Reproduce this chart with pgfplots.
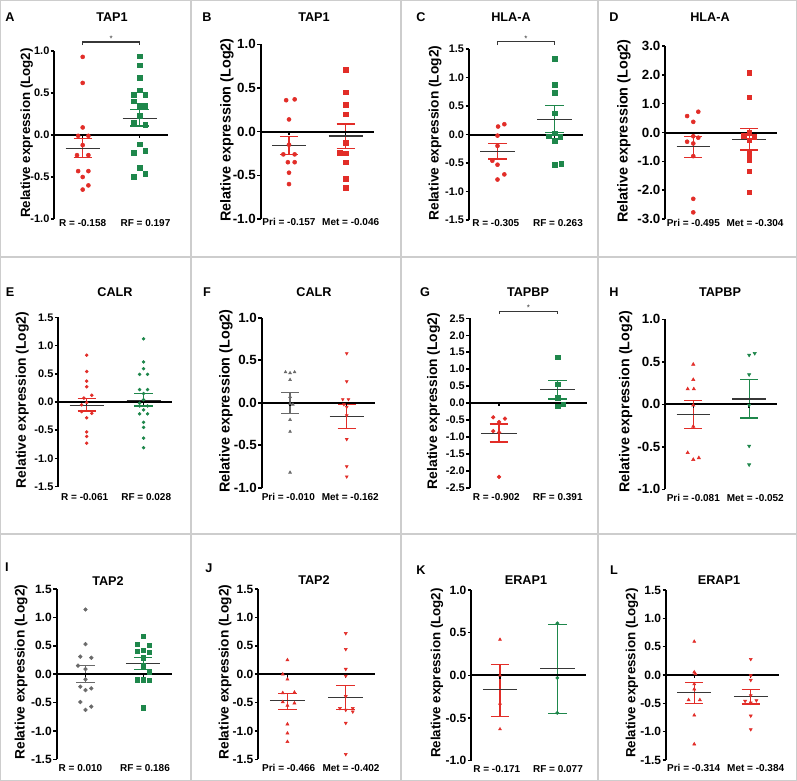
\documentclass[border=0pt]{standalone}
\usepackage{fontspec}
\setmainfont{Liberation Sans}
\usepackage{pgfplots}
\pgfplotsset{compat=1.18}
\definecolor{pred}{RGB}{226,45,40}
\definecolor{pgreen}{RGB}{30,135,75}
\definecolor{pgrey}{RGB}{105,105,105}
\definecolor{mgrey}{RGB}{55,55,55}
\definecolor{frame}{RGB}{205,205,205}
\newcommand\ttl{\bfseries\fontsize{9.5}{11}\selectfont}
\newcommand\grp{\bfseries\fontsize{7.5}{9}\selectfont}
\newcommand\lab[1]{\bfseries\fontsize{#1}{12}\selectfont}
\pgfplotsset{
  panel/.style={scale only axis, clip=false, xmin=0.5, xmax=2.5,
    axis x line=none, axis y line=left,
    axis line style={-, line width=1.5pt, black},
    ytick style={line width=1.2pt, black},
    tick align=outside, major tick length=2.5pt,
    yticklabel style={font=\bfseries\fontsize{#1}{#1}\selectfont, inner sep=1pt},
    anchor=south west},
  dot/.style={only marks, mark=*, mark size=#1},
  sq/.style={only marks, mark=square*, mark size=#1},
  triU/.style={only marks, mark=triangle*, mark size=#1},
  triD/.style={only marks, mark=triangle*, mark size=#1, mark options={rotate=180}},
}
\newcommand\semA[3]{%
  \addplot[#3, line width=0.9pt] coordinates {(0.84,#1) (1.16,#1)};
  \addplot[#3, line width=0.9pt] coordinates {(1,#1) (1,#2)};
  \addplot[#3, line width=0.9pt] coordinates {(0.84,#2) (1.16,#2)};}
\newcommand\semB[3]{%
  \addplot[#3, line width=0.9pt] coordinates {(1.84,#1) (2.16,#1)};
  \addplot[#3, line width=0.9pt] coordinates {(2,#1) (2,#2)};
  \addplot[#3, line width=0.9pt] coordinates {(1.84,#2) (2.16,#2)};}
\newcommand\means[2]{%
  \addplot[mgrey, line width=0.9pt] coordinates {(0.7,#1) (1.3,#1)};
  \addplot[mgrey, line width=0.9pt] coordinates {(1.7,#2) (2.3,#2)};}
\newcommand\zeroline{%
  \addplot[black, line width=1.5pt] coordinates {(0.5,0) (2.5,0)};
  \draw[line width=1pt] (axis cs:1,0) -- ++(0pt,-2.5pt);
  \draw[line width=1pt] (axis cs:2,0) -- ++(0pt,-2.5pt);}
\newcommand\bracket[2]{%
  \draw[mgrey, line width=0.8pt] (axis cs:1,#2) -- (axis cs:1,#1) -- (axis cs:2,#1) -- (axis cs:2,#2);
  \node[mgrey, font=\fontsize{6}{6}\selectfont, yshift=2.5pt] at (axis cs:1.5,#1) {*};}
\begin{document}
\begin{tikzpicture}
\useasboundingbox (0,0) rectangle (597.75pt,-585.75pt);
\fill[white] (0,0) rectangle (597.75pt,-585.75pt);

% ---------------- A
\begin{axis}[panel=8.2, at={(40.7pt,-164.25pt)}, width=85.3pt, height=126pt,
  ymin=-1, ymax=1, ytick={-1,-0.5,0,0.5,1}, yticklabels={-1.0,-0.5,0.0,0.5,1.0}]
\addplot[dot=1.5pt, pred] coordinates {(1,0.93)(1,0.62)(1,0.09)(0.92,-0.01)(1.1,-0.01)(1,-0.12)(0.9,-0.24)(1.1,-0.24)(0.92,-0.43)(1.1,-0.43)(1,-0.50)(1.1,-0.60)(1,-0.65)};
\addplot[sq=1.7pt, pgreen] coordinates {(2,0.94)(2,0.83)(2,0.68)(2,0.53)(1.9,0.48)(2.1,0.48)(1.9,0.40)(2,0.35)(2.1,0.35)(2,0.23)(1.9,0.15)(2.1,0.12)(2,-0.11)(2.1,-0.19)(1.9,-0.21)(2,-0.39)(2.1,-0.46)(1.9,-0.50)};
\semA{-0.04}{-0.27}{pred}
\semB{0.30}{0.107}{pgreen}
\means{-0.158}{0.197}
\zeroline
\bracket{1.107}{1.07}
\end{axis}

% ---------------- B
\begin{axis}[panel=10, at={(195.5pt,-164.25pt)}, width=85pt, height=131pt,
  ymin=-1, ymax=1, ytick={-1,-0.5,0,0.5,1}, yticklabels={-1.0,-0.5,0.0,0.5,1.0}]
\addplot[dot=1.5pt, pred] coordinates {(0.95,0.36)(1.1,0.37)(1,0.14)(1,-0.15)(0.9,-0.26)(1.1,-0.26)(0.98,-0.35)(1.1,-0.35)(1,-0.47)(1,-0.60)};
\addplot[sq=1.7pt, pred] coordinates {(2,0.71)(2,0.45)(2,0.31)(2,0.20)(2,-0.13)(1.9,-0.24)(2,-0.25)(2,-0.35)(2,-0.54)(2,-0.64)};
\semA{-0.055}{-0.26}{pred}
\semB{0.088}{-0.19}{pred}
\means{-0.157}{-0.05}
\zeroline
\end{axis}

% ---------------- C
\begin{axis}[panel=8.2, at={(351.75pt,-165pt)}, width=85.5pt, height=128.25pt,
  ymin=-1.5, ymax=1.5, ytick={-1.5,-1,-0.5,0,0.5,1,1.5}, yticklabels={-1.5,-1.0,-0.5,0.0,0.5,1.0,1.5}]
\addplot[dot=1.5pt, pred] coordinates {(1.12,0.18)(1.01,0.14)(1,-0.02)(1,-0.20)(0.91,-0.46)(1,-0.53)(1.12,-0.70)(1,-0.79)};
\addplot[sq=1.7pt, pgreen] coordinates {(2,1.33)(2,0.87)(2,0.73)(2,0.37)(2,0.02)(1.9,-0.03)(2.1,-0.04)(2,-0.11)(2.12,-0.51)(2,-0.53)};
\semA{-0.16}{-0.43}{pred}
\semB{0.51}{0.03}{pgreen}
\means{-0.305}{0.263}
\zeroline
\bracket{1.63}{1.57}
\end{axis}

% ---------------- D
\begin{axis}[panel=10, at={(499pt,-164.25pt)}, width=83.8pt, height=129.75pt,
  ymin=-3, ymax=3, ytick={-3,-2,-1,0,1,2,3}, yticklabels={-3.0,-2.0,-1.0,0.0,1.0,2.0,3.0}]
\addplot[dot=1.5pt, pred] coordinates {(1.09,0.72)(0.89,0.57)(1,0.37)(1,-0.13)(1.09,-0.18)(0.89,-0.32)(1,-0.38)(1,-0.82)(1,-2.30)(1,-2.77)};
\addplot[sq=1.7pt, pred] coordinates {(2,2.07)(2,1.22)(1.9,-0.12)(2.09,-0.15)(2,0.0)(2,-0.27)(2,-0.73)(2,-0.94)(2,-1.35)(2,-2.07)};
\semA{-0.15}{-0.88}{pred}
\semB{0.127}{-0.61}{pred}
\means{-0.495}{-0.24}
\zeroline
\end{axis}

% ---------------- E
\begin{axis}[panel=8.2, at={(43.7pt,-365pt)}, width=85.3pt, height=127pt,
  ymin=-1.5, ymax=1.5, ytick={-1.5,-1,-0.5,0,0.5,1,1.5}, yticklabels={-1.5,-1.0,-0.5,0.0,0.5,1.0,1.5}]
\addplot[dot=1.1pt, pred] coordinates {(1,0.83)(1,0.54)(1,0.37)(1,0.27)(1.09,0.12)(0.95,0.07)(1,-0.01)(0.91,-0.05)(0.91,-0.17)(1.09,-0.20)(1,-0.28)(1,-0.53)(1,-0.61)(1,-0.73)};
\addplot[dot=1.1pt, pgreen] coordinates {(2,1.12)(2,0.71)(2,0.59)(1.93,0.49)(2.07,0.49)(1.93,0.22)(2.07,0.22)(2,0.15)(2,0.04)(1.93,-0.02)(1.93,-0.07)(2.07,-0.07)(2,-0.14)(1.93,-0.21)(2.07,-0.21)(2,-0.36)(2,-0.45)(2,-0.64)(2,-0.81)};
\semA{0.06}{-0.16}{pred}
\semB{0.15}{-0.07}{pgreen}
\means{-0.061}{0.028}
\zeroline
\end{axis}

% ---------------- F
\begin{axis}[panel=10, at={(196.3pt,-365.8pt)}, width=85pt, height=127.5pt,
  ymin=-1, ymax=1, ytick={-1,-0.5,0,0.5,1}, yticklabels={-1.0,-0.5,0.0,0.5,1.0}]
\addplot[triU=1.2pt, pgrey] coordinates {(0.92,0.36)(1,0.35)(1.08,0.36)(1,0.27)(1,0.07)(1,-0.01)(1.05,-0.02)(1,-0.20)(1,-0.34)(1,-0.82)};
\addplot[triD=1.2pt, pred] coordinates {(2,0.58)(2,0.25)(1.93,0.04)(2.03,0.04)(1.95,-0.02)(2,-0.05)(2,-0.15)(2,-0.43)(2,-0.75)(2,-0.87)};
\semA{0.12}{-0.13}{pgrey}
\semB{-0.015}{-0.30}{pred}
\means{-0.010}{-0.162}
\zeroline
\end{axis}

% ---------------- G
\begin{axis}[panel=8.2, at={(352.3pt,-365.8pt)}, width=88pt, height=127pt,
  ymin=-2.5, ymax=2.5, ytick={-2.5,-2,-1.5,-1,-0.5,0,0.5,1,1.5,2,2.5}, yticklabels={-2.5,-2.0,-1.5,-1.0,-0.5,0.0,0.5,1.0,1.5,2.0,2.5}]
\addplot[dot=1.4pt, pred] coordinates {(0.9,-0.42)(1.1,-0.46)(1,-0.56)(0.9,-0.83)(1,-0.87)(1,-2.18)};
\addplot[sq=1.6pt, pgreen] coordinates {(2,1.35)(2,0.56)(2,0.16)(2.1,-0.03)(2,-0.10)};
\semA{-0.62}{-1.15}{pred}
\semB{0.66}{0.12}{pgreen}
\means{-0.902}{0.391}
\zeroline
\bracket{2.715}{2.63}
\end{axis}

% ---------------- H
\begin{axis}[panel=10, at={(499pt,-367pt)}, width=83.8pt, height=127.5pt,
  ymin=-1, ymax=1, ytick={-1,-0.5,0,0.5,1}, yticklabels={-1.0,-0.5,0.0,0.5,1.0}]
\addplot[triU=1.4pt, pred] coordinates {(1,0.47)(1,0.29)(0.9,0.18)(1.01,0.18)(1,-0.01)(1,-0.26)(0.9,-0.57)(1,-0.65)(1.1,-0.63)};
\addplot[triD=1.4pt, pgreen] coordinates {(2,0.58)(2.1,0.60)(2,0.35)(2,-0.01)(2,-0.49)(2,-0.71)};
\semA{0.043}{-0.28}{pred}
\semB{0.29}{-0.16}{pgreen}
\means{-0.118}{0.063}
\zeroline
\end{axis}

% ---------------- I
\begin{axis}[panel=9, at={(42.5pt,-569.5pt)}, width=86.5pt, height=127.7pt,
  ymin=-1.5, ymax=1.5, ytick={-1.5,-1,-0.5,0,0.5,1,1.5}, yticklabels={-1.5,-1.0,-0.5,0.0,0.5,1.0,1.5}]
\addplot[dot=1.4pt, pgrey] coordinates {(1,1.14)(1,0.53)(0.91,0.31)(1.1,0.29)(0.87,0.15)(1,0.09)(1,-0.09)(0.91,-0.22)(1.1,-0.25)(1,-0.28)(0.91,-0.49)(1.1,-0.57)(1,-0.63)};
\addplot[sq=1.6pt, pgreen] coordinates {(2,0.67)(1.9,0.53)(2.1,0.51)(2,0.42)(1.9,0.40)(2.1,0.39)(2,0.29)(2,0.15)(2.1,0.04)(1.9,-0.10)(2,-0.10)(2.1,-0.11)(2,-0.59)};
\semA{0.15}{-0.15}{pgrey}
\semB{0.29}{0.08}{pgreen}
\means{0.010}{0.186}
\zeroline
\end{axis}

% ---------------- J
\begin{axis}[panel=9, at={(193.7pt,-569.5pt)}, width=87.5pt, height=127.7pt,
  ymin=-1.5, ymax=1.5, ytick={-1.5,-1,-0.5,0,0.5,1,1.5}, yticklabels={-1.5,-1.0,-0.5,0.0,0.5,1.0,1.5}]
\addplot[triU=1.3pt, pred] coordinates {(1,0.25)(0.92,0.0)(1,-0.09)(1.12,-0.32)(0.92,-0.33)(0.92,-0.49)(1.12,-0.51)(1,-0.55)(1,-0.88)(1,-1.04)(1,-1.19)};
\addplot[triD=1.3pt, pred] coordinates {(2,0.72)(2,0.44)(2,0.09)(2,-0.03)(2,-0.39)(1.9,-0.60)(2,-0.63)(2.12,-0.66)(2.12,-0.60)(2,-0.86)(2,-1.41)};
\semA{-0.335}{-0.62}{pred}
\semB{-0.20}{-0.62}{pred}
\means{-0.47}{-0.405}
\zeroline
\end{axis}

% ---------------- K
\begin{axis}[panel=9, at={(353.5pt,-570.5pt)}, width=86pt, height=128pt,
  ymin=-1, ymax=1, ytick={-1,-0.5,0,0.5,1}, yticklabels={-1.0,-0.5,0.0,0.5,1.0}]
\addplot[triU=1.2pt, pred] coordinates {(1,0.42)(1,0.0)(1,-0.33)(1,-0.63)};
\addplot[dot=1.2pt, pgreen] coordinates {(2,0.61)(2,-0.03)(2,-0.44)};
\semA{0.13}{-0.48}{pred}
\semB{0.60}{-0.45}{pgreen}
\means{-0.168}{0.078}
\zeroline
\end{axis}

% ---------------- L
\begin{axis}[panel=9, at={(499.5pt,-570pt)}, width=84.75pt, height=127.5pt,
  ymin=-1.5, ymax=1.5, ytick={-1.5,-1,-0.5,0,0.5,1,1.5}, yticklabels={-1.5,-1.0,-0.5,0.0,0.5,1.0,1.5}]
\addplot[triU=1.3pt, pred] coordinates {(1,0.59)(1,0.05)(1.02,0.02)(1,-0.16)(1,-0.25)(0.9,-0.44)(1.1,-0.44)(1,-0.71)(1,-1.22)};
\addplot[triD=1.3pt, pred] coordinates {(2,0.28)(2,-0.01)(2,-0.09)(2,-0.36)(1.9,-0.46)(2.1,-0.45)(2,-0.49)(2,-0.72)(2,-0.96)};
\semA{-0.13}{-0.50}{pred}
\semB{-0.25}{-0.51}{pred}
\means{-0.314}{-0.384}
\zeroline
\end{axis}

% ---------------- annotations (pixel coordinates)
\begin{scope}[x=0.75pt, y=-0.75pt]
\draw[frame, line width=0.9pt] (191,0) -- (191,781);
\draw[frame, line width=0.9pt] (401,0) -- (401,781);
\draw[frame, line width=0.9pt] (598,0) -- (598,781);
\draw[frame, line width=0.9pt] (0,257) -- (797,257);
\draw[frame, line width=0.9pt] (0,534) -- (797,534);
\draw[frame, line width=0.9pt] (0.5,0.5) rectangle (796.5,780.5);
% titles
\foreach \x/\y/\t in {112/17/TAP1, 314/17/TAP1, 511/17/HLA-A, 710/17/HLA-A,
  115/292/CALR, 314/292/CALR, 528/292/TAPBP, 720/292/TAPBP,
  108/581/TAP2, 314/580/TAP2, 526/580/ERAP1, 719/580/ERAP1}
  \node[font=\ttl] at (\x,\y) {\t};
% letters
\foreach \x/\y/\t in {10/17/A, 207/17/B, 421/17/C, 614/17/D,
  10/292/E, 207/292/F, 425/292/G, 614/292/H,
  7/567/I, 209/568/J, 421/570/K, 614/570/L}
  \node[font=\ttl] at (\x,\y) {\t};
% y labels
\foreach \x/\y/\s in {26.7/133/10, 227/130/10.8, 435/133/10.3, 624/131/10.8,
  22.3/400/10.4, 226/401/10.8, 433.6/401/10.4, 625.7/402/10.7,
  21/672/10.3, 225/672/10.3, 437/673/10, 632/673/10}
  \node[font=\lab{\s}, rotate=90] at (\x,\y) {Relative expression (Log2)};
% group labels
\foreach \x/\y/\t in {82.7/222.7/{R = -0.158}, 145.5/222.7/{RF = 0.197},
  289/221.7/{Pri = -0.157}, 350.7/221.7/{Met = -0.046},
  495.8/222.7/{R = -0.305}, 558/222.7/{RF = 0.263},
  693.3/223.3/{Pri = -0.495}, 755/223.3/{Met = -0.304},
  84.7/496.7/{R = -0.061}, 146.2/496.7/{RF = 0.028},
  288.3/496.7/{Pri = -0.010}, 350.3/496.7/{Met = -0.162},
  496.3/497.3/{R = -0.902}, 557.7/497.3/{RF = 0.391},
  693.3/497.7/{Pri = -0.081}, 755.3/497.7/{Met = -0.052},
  80.5/768.3/{R = 0.010}, 145/768.3/{RF = 0.186},
  288.7/768.3/{Pri = -0.466}, 351/768.3/{Met = -0.402},
  496.8/769/{R = -0.171}, 558/769/{RF = 0.077},
  693.7/768.3/{Pri = -0.314}, 755.7/768.3/{Met = -0.384}}
  \node[font=\grp, inner sep=0pt] at (\x,\y) {\t};
\end{scope}
\end{tikzpicture}
\end{document}
